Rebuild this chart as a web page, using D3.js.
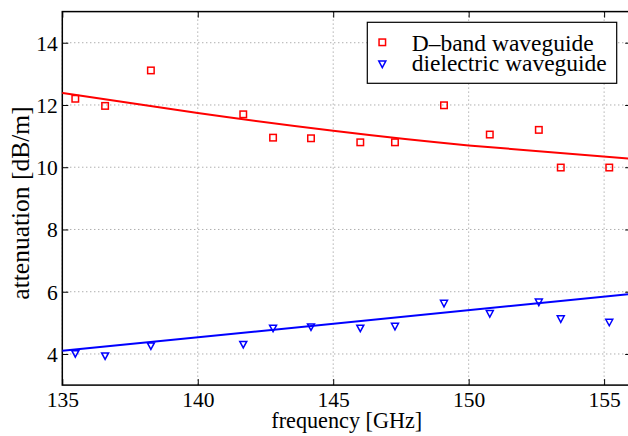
<!DOCTYPE html>
<html>
<head>
<meta charset="utf-8">
<script src="https://cdn.jsdelivr.net/npm/d3@7"></script>
<style>
  html, body { margin: 0; padding: 0; background: #fff; }
  svg { display: block; }
  text { font-family: "Liberation Serif", "Times New Roman", serif; fill: #000; }
</style>
</head>
<body>
<svg id="chart" width="628" height="436"></svg>
<script>
// Measured attenuation, D-band rectangular waveguide
const freqD = [135.48, 136.58, 138.27, 141.68, 142.78, 144.18, 146.0, 147.28, 149.09, 150.78, 152.59, 153.40, 155.19];
const attD  = [12.20, 11.97, 13.11, 11.70, 10.95, 10.93, 10.80, 10.80, 11.99, 11.05, 11.20, 9.99, 9.99];

// Measured attenuation, dielectric waveguide
const freqDiel = [135.48, 136.58, 138.27, 141.68, 142.78, 144.18, 146.0, 147.28, 149.09, 150.78, 152.59, 153.40, 155.19];
const attDiel  = [4.00, 3.93, 4.25, 4.30, 4.82, 4.86, 4.82, 4.88, 5.62, 5.29, 5.66, 5.12, 5.01];

// Fitted trend curves
const fitFreqD = [135, 140, 145, 150, 156];
const fitAttD  = [12.39, 11.74, 11.17, 10.70, 10.27];
const fitFreqDiel = [135, 156];
const fitAttDiel  = [4.10, 5.93];

// Axis ticks and labels
const xTicks = [135, 140, 145, 150, 155];
const yTicks = [4, 6, 8, 10, 12, 14];
const xLabel = "frequency [GHz]";
const yLabel = "attenuation [dB/m]";
const legendLabels = ["D\u2013band waveguide", "dielectric waveguide"];

const svg = d3.select("#chart");
const plotL = 62.3, plotR = 631.2, plotT = 11.6, plotB = 385.1;

const x = d3.scaleLinear().domain([135, 156]).range([plotL, plotR]);
const y = d3.scaleLinear().domain([3, 15]).range([plotB, plotT]);

const red = "#ff0000", blue = "#0000ff";
const tickFont = 21.5, xLabelFont = 22.2, yLabelFont = 25.5, legendFont = 23.5;

// Grid
const grid = svg.append("g");
grid.selectAll(".gx").data(xTicks).join("line")
  .attr("x1", d => x(d)).attr("x2", d => x(d))
  .attr("y1", plotT).attr("y2", plotB)
  .attr("stroke", "#8c8c8c").attr("stroke-width", 1)
  .attr("stroke-dasharray", "1,3");
grid.selectAll(".gy").data(yTicks).join("line")
  .attr("y1", d => y(d)).attr("y2", d => y(d))
  .attr("x1", plotL).attr("x2", plotR)
  .attr("stroke", "#8c8c8c").attr("stroke-width", 1)
  .attr("stroke-dasharray", "1,3");

// Axes (inward ticks on all four sides)
const tickLen = 6;
const axB = d3.axisBottom(x).tickValues(xTicks).tickSizeInner(-tickLen).tickSizeOuter(0).tickFormat(d3.format("d"));
const axT = d3.axisTop(x).tickValues(xTicks).tickSizeInner(-tickLen).tickSizeOuter(0).tickFormat("");
const axL = d3.axisLeft(y).tickValues(yTicks).tickSizeInner(-tickLen).tickSizeOuter(0).tickFormat(d3.format("d"));
const axR = d3.axisRight(y).tickValues(yTicks).tickSizeInner(-tickLen).tickSizeOuter(0).tickFormat("");

function styleAxis(g) {
  g.attr("font-family", null).attr("font-size", null);
  g.select(".domain").remove();
  g.selectAll(".tick line").attr("stroke", "#000").attr("stroke-width", 1);
  g.selectAll(".tick text").attr("font-size", tickFont);
}
svg.append("g").attr("transform", `translate(0,${plotB})`).call(axB).call(styleAxis)
  .selectAll(".tick text").attr("y", 22).attr("dy", null);
svg.append("g").attr("transform", `translate(0,${plotT})`).call(axT).call(styleAxis);
svg.append("g").attr("transform", `translate(${plotL},0)`).call(axL).call(styleAxis)
  .selectAll(".tick text").attr("x", -4.5).attr("dy", "0.34em");
svg.append("g").attr("transform", `translate(${plotR},0)`).call(axR).call(styleAxis);

// Frame
svg.append("rect").attr("x", plotL).attr("y", plotT)
  .attr("width", plotR - plotL).attr("height", plotB - plotT)
  .attr("fill", "none").attr("stroke", "#000").attr("stroke-width", 1.5);

// Fit curves
const lineGen = d3.line().x(d => x(d[0])).y(d => y(d[1])).curve(d3.curveNatural);
svg.append("path").datum(d3.zip(fitFreqD, fitAttD)).attr("d", lineGen)
  .attr("fill", "none").attr("stroke", red).attr("stroke-width", 2);
svg.append("path").datum(d3.zip(fitFreqDiel, fitAttDiel)).attr("d", d3.line().x(d => x(d[0])).y(d => y(d[1])))
  .attr("fill", "none").attr("stroke", blue).attr("stroke-width", 2);

// Markers
const sq = 6.5;
function square(g, cx, cy) {
  g.append("rect").attr("x", cx - sq / 2).attr("y", cy - sq / 2)
    .attr("width", sq).attr("height", sq)
    .attr("fill", "none").attr("stroke", red).attr("stroke-width", 1.5);
}
function triangle(g, cx, cy) {
  const w = 7, h = 6.5;
  g.append("path")
    .attr("d", `M${cx - w / 2},${cy - h / 2}L${cx + w / 2},${cy - h / 2}L${cx},${cy + h / 2}Z`)
    .attr("fill", "none").attr("stroke", blue).attr("stroke-width", 1.5)
    .attr("stroke-linejoin", "miter");
}
const markD = svg.append("g");
d3.zip(freqD, attD).forEach(([f, a]) => square(markD, x(f), y(a)));
const markDiel = svg.append("g");
d3.zip(freqDiel, attDiel).forEach(([f, a]) => triangle(markDiel, x(f), y(a)));

// Axis titles
svg.append("text").attr("x", (plotL + plotR) / 2).attr("y", 428)
  .attr("text-anchor", "middle").attr("font-size", xLabelFont)
  .text(xLabel);
svg.append("text").attr("transform", `translate(29,203) rotate(-90)`)
  .attr("text-anchor", "middle").attr("font-size", yLabelFont)
  .text(yLabel);

// Legend
const lg = svg.append("g");
lg.append("rect").attr("x", 367.3).attr("y", 22.3).attr("width", 249.4).attr("height", 61)
  .attr("fill", "#fff").attr("stroke", "#000").attr("stroke-width", 1.2);
square(lg, 382.3, 42.3);
triangle(lg, 382.3, 64.3);
lg.append("text").attr("x", 411.7).attr("y", 50.5).attr("font-size", legendFont).text(legendLabels[0]);
lg.append("text").attr("x", 411.7).attr("y", 70.7).attr("font-size", legendFont).text(legendLabels[1]);
</script>
</body>
</html>
